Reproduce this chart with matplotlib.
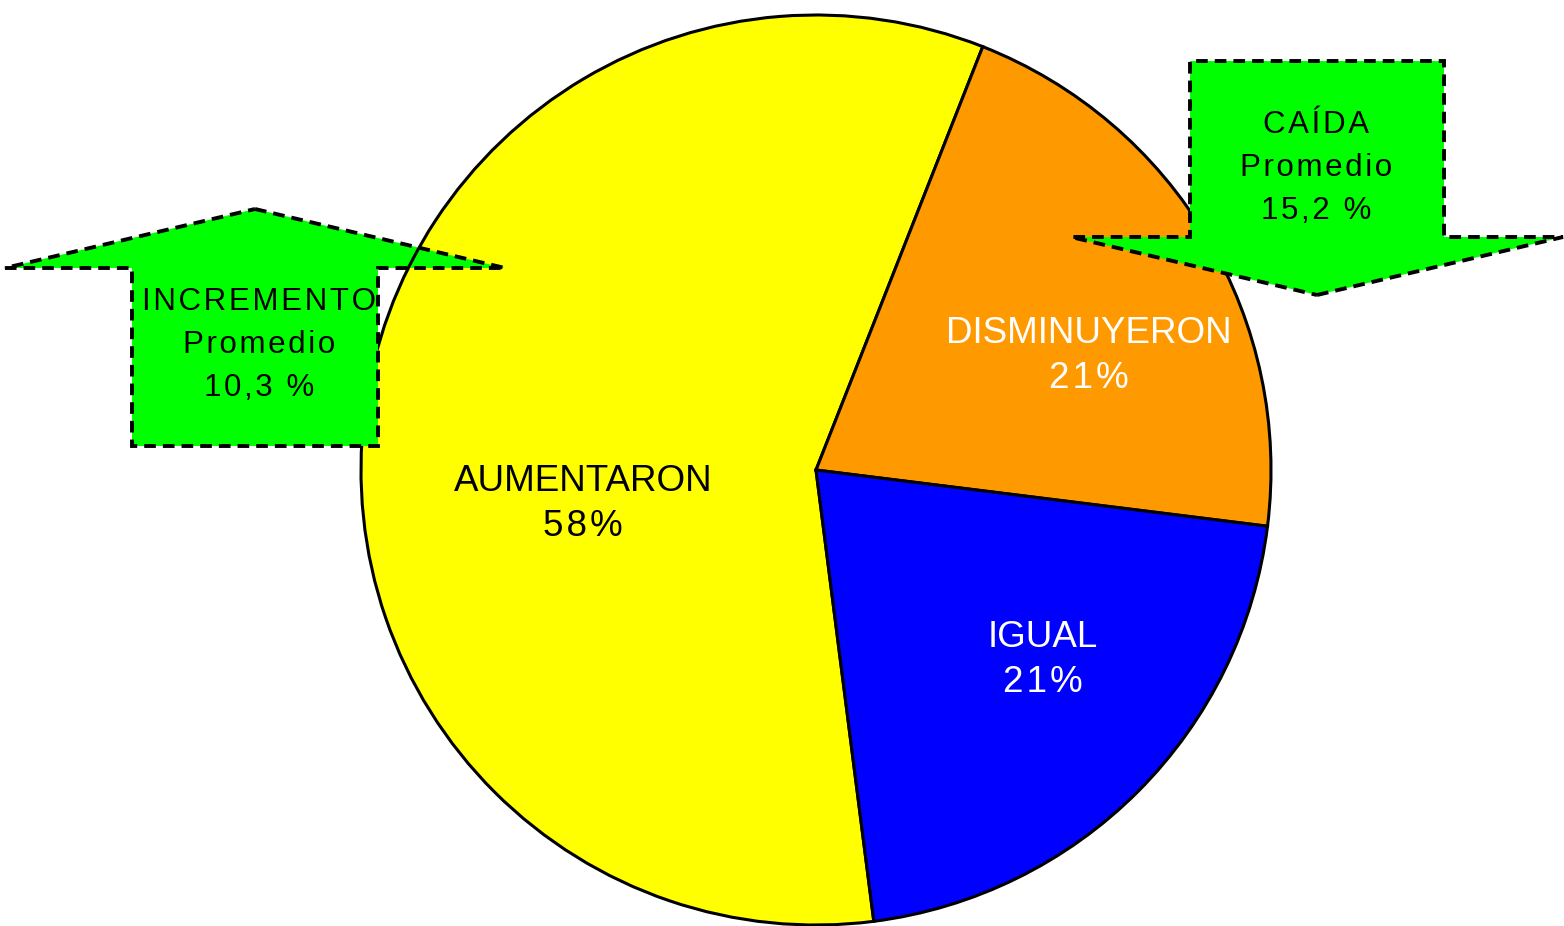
import matplotlib.pyplot as plt
from matplotlib.patches import Polygon

plt.rcParams['font.family'] = ['Liberation Sans', 'DejaVu Sans']

# datos
categorias = ['AUMENTARON', 'DISMINUYERON', 'IGUAL']
porcentajes = [58, 21, 21]
colores = ['#FFFF00', '#FF9900', '#0000FF']
color_texto = ['black', 'white', 'white']

flecha_arriba = ['INCREMENTO', 'Promedio', '10,3 %']
flecha_abajo = ['CAÍDA', 'Promedio', '15,2 %']

W, H = 1564, 926
fig = plt.figure(figsize=(W / 100, H / 100), dpi=100)
ax = fig.add_axes([0, 0, 1, 1])


def espaciado(s, n=1):
    # simula el espaciado entre letras con espacios finos
    return ('\u200a' * n).join(s)


# pastel (coordenadas en pixeles, y hacia arriba)
cx, cy, r = 816, H - 470, 455
wedges, _ = ax.pie(porcentajes, colors=colores, startangle=68.5 + 360 * porcentajes[0] / 100,
                   counterclock=False, center=(cx, cy), radius=r,
                   wedgeprops=dict(edgecolor='black', linewidth=2.2))
ax.set_xlim(0, W)
ax.set_ylim(0, H)
ax.set_aspect('equal')
ax.axis('off')

# posiciones de las etiquetas dentro del pastel
pos_etiquetas = [(583, H - 504), (1089, H - 356), (1043, H - 660)]
for cat, p, (x, y), c in zip(categorias, porcentajes, pos_etiquetas, color_texto):
    ax.text(x, y, cat + '\n' + espaciado(f'{p}%'), ha='center', va='center',
            fontsize=26.5, color=c, linespacing=1.4, zorder=5)


def flecha(xc, shaft, head, y_base, y_punta, y_fin):
    """Flecha vertical: y_base = base de la cabeza, y_punta = punta, y_fin = extremo del cuerpo."""
    pts = [(xc, y_punta), (xc + head, y_base), (xc + shaft, y_base), (xc + shaft, y_fin),
           (xc - shaft, y_fin), (xc - shaft, y_base), (xc - head, y_base)]
    return Polygon([(x, H - y) for x, y in pts], closed=True, facecolor='#00FF00',
                   edgecolor='black', linewidth=2.8, linestyle=(0, (3.0, 1.8)), zorder=4)


ax.add_patch(flecha(255, 123, 250, 268, 209, 446))
ax.add_patch(flecha(1317, 127, 246, 237, 295, 61))

# contorno del pastel visible sobre la cabeza de la flecha izquierda
ax.add_patch(plt.Circle((cx, cy), r, fill=False, edgecolor='black', linewidth=2.2, zorder=4.5,
                        clip_path=flecha(255, 250, 250, 268, 209, 268), clip_on=True))

ax.text(259, H - 345, '\n'.join(espaciado(t) for t in flecha_arriba), ha='center',
        va='center', fontsize=22.5, linespacing=1.55, zorder=6)
ax.text(1316, H - 168, '\n'.join(espaciado(t) for t in flecha_abajo), ha='center',
        va='center', fontsize=22.5, linespacing=1.55, zorder=6)

plt.savefig('out.png', dpi=100)
